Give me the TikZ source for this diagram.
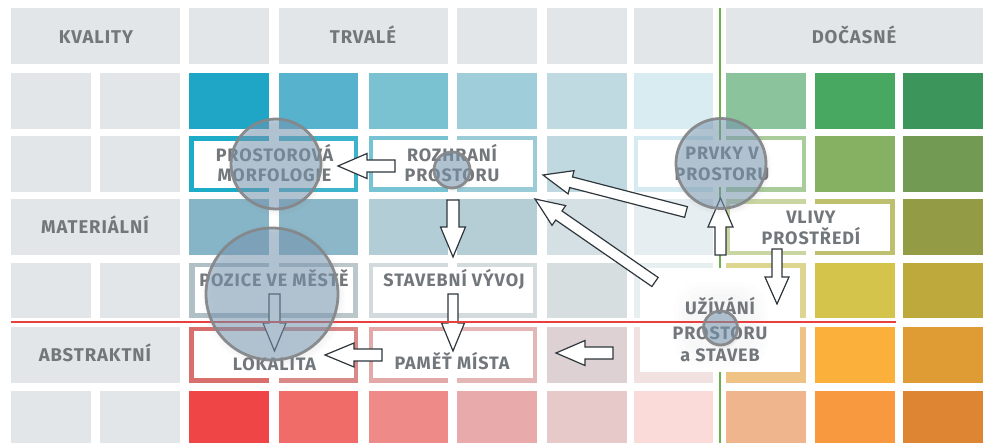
\documentclass[tikz,border=0pt]{standalone}
\usepackage{fontspec}
\setmainfont{Fira Sans}
\newfontfamily\lblfont[LetterSpace=5]{Fira Sans}
\usetikzlibrary{calc,shadows}
\definecolor{gcell}{HTML}{E3E6E8}
\definecolor{txtgray}{HTML}{72777C}
\definecolor{arrowc}{HTML}{2F373C}
\definecolor{lensfill}{HTML}{7496B3}
\definecolor{lensborder}{HTML}{858789}
\definecolor{redline}{HTML}{E8403E}
\definecolor{greenline}{HTML}{6BB04A}
% row 1
\definecolor{ra2}{HTML}{1FA6C6}\definecolor{ra3}{HTML}{56B2CD}\definecolor{ra4}{HTML}{7AC1D1}
\definecolor{ra5}{HTML}{A0CDDA}\definecolor{ra6}{HTML}{C0DAE2}\definecolor{ra7}{HTML}{D8ECF2}
\definecolor{ra8}{HTML}{8BC39C}\definecolor{ra9}{HTML}{48A862}\definecolor{ra10}{HTML}{3C965C}
% row 2
\definecolor{rb2}{HTML}{1CACC8}\definecolor{rb3}{HTML}{3CB4CC}\definecolor{rb4}{HTML}{78C3D3}
\definecolor{rb5}{HTML}{9ACCD8}\definecolor{rb6}{HTML}{C0D9E0}\definecolor{rb7}{HTML}{D5EBF1}
\definecolor{rb8}{HTML}{A9CC9A}\definecolor{rb9}{HTML}{86B163}\definecolor{rb10}{HTML}{729A52}
% row 3
\definecolor{rc2}{HTML}{86B5C8}\definecolor{rc3}{HTML}{8BB7C8}\definecolor{rc4}{HTML}{B2CDD5}
\definecolor{rc5}{HTML}{B5CED6}\definecolor{rc6}{HTML}{D4E0E4}\definecolor{rc7}{HTML}{E6EEF1}
\definecolor{rc8}{HTML}{C9D6A2}\definecolor{rc9}{HTML}{BEC06F}\definecolor{rc10}{HTML}{939B45}
% row 4
\definecolor{rd2}{HTML}{B1C0C6}\definecolor{rd3}{HTML}{BCC7CC}\definecolor{rd4}{HTML}{D3DADD}
\definecolor{rd5}{HTML}{D3DBDD}\definecolor{rd6}{HTML}{D6DEDF}\definecolor{rd7}{HTML}{E8EFF1}
\definecolor{rd8}{HTML}{DCD690}\definecolor{rd9}{HTML}{D5C44B}\definecolor{rd10}{HTML}{BDA93C}
% row 5
\definecolor{re2}{HTML}{D86F6D}\definecolor{re3}{HTML}{D98987}\definecolor{re4}{HTML}{E2A9A8}
\definecolor{re5}{HTML}{E4B6B6}\definecolor{re6}{HTML}{DDD1D3}\definecolor{re7}{HTML}{F2E1E1}
\definecolor{re8}{HTML}{EEC385}\definecolor{re9}{HTML}{FBB03B}\definecolor{re10}{HTML}{E09C34}
% row 6
\definecolor{rf2}{HTML}{F04546}\definecolor{rf3}{HTML}{F06C68}\definecolor{rf4}{HTML}{EE8B88}
\definecolor{rf5}{HTML}{E8AAAA}\definecolor{rf6}{HTML}{E8C9CA}\definecolor{rf7}{HTML}{FBDADA}
\definecolor{rf8}{HTML}{EFB58C}\definecolor{rf9}{HTML}{F8993F}\definecolor{rf10}{HTML}{DD8532}

\newcommand\blockarr[5]{% tail, tip, shaft half width, head half width, head length
  \coordinate (#1-base) at ($(#2)!#5!(#1)$);
  \draw[arrowline] ($(#1)!#3!90:(#2)$) -- ($(#1-base)!#3!90:(#2)$) -- ($(#1-base)!#4!90:(#2)$)
    -- (#2) -- ($(#1-base)!#4!-90:(#2)$) -- ($(#1-base)!#3!-90:(#2)$) -- ($(#1)!#3!-90:(#2)$) -- cycle;
}

\begin{document}
\begin{tikzpicture}[x=1pt,y=-1pt,
  hdr/.style={font=\lblfont\bfseries\fontsize{18.5}{22}\selectfont, text=txtgray, inner sep=0pt, anchor=base},
  lbl/.style={font=\lblfont\bfseries\fontsize{18}{21}\selectfont, text=txtgray, inner sep=0pt, anchor=base},
  arrowline/.style={draw=arrowc, line width=1.2pt, fill=white, line join=miter},
  lens/.style={draw=lensborder, draw opacity=0.95, line width=2.8pt, fill=lensfill, fill opacity=0.5,
    circular drop shadow={shadow xshift=1pt, shadow yshift=-2pt, opacity=0.13, shadow scale=1.1}},
  inner/.style={fill=white}
]
\useasboundingbox (0,0) rectangle (989,443);
\clip (0,0) rectangle (989,443);
\fill[white] (0,0) rectangle (989,443);

% header row
\foreach \xa/\xb in {11/180,189/269,279/448,457/537,547/627,634/713,726/983}
  \fill[gcell] (\xa,8) rectangle (\xb,64);
% left grey columns
\foreach \ya/\yb in {73/129,136/192,263/318,391/447}{
  \fill[gcell] (11,\ya) rectangle (91,\yb);
  \fill[gcell] (100,\ya) rectangle (180,\yb);
}
\fill[gcell] (11,199) rectangle (180,255);
\fill[gcell] (11,327) rectangle (180,383);

% coloured cells
\foreach \r/\ya/\yb in {a/73/129,b/136/192,c/199/255,d/263/318,e/327/383,f/391/447}{
  \foreach \c/\xa/\xb in {2/189/269,3/279/358,4/369/448,5/457/537,6/547/627,7/634/713,8/726/806,9/815/895,10/903/983}
    \fill[r\r\c] (\xa,\ya) rectangle (\xb,\yb);
}

% green divider
\coordinate (gtop) at (720,8);
\coordinate (gbot) at (720,443);
\draw[greenline, line width=1.5pt] (gtop) -- (gbot);

% white insides of the framed boxes
\fill[inner] (194,141) rectangle (354,188);
\fill[inner] (373,140) rectangle (533,187);
\fill[inner] (638,140) rectangle (802,187);
\fill[inner] (730,204) rectangle (890,251);
\fill[inner] (195,267) rectangle (353,313);
\fill[inner] (373,267) rectangle (533,313);
\fill[inner] (194,331) rectangle (354,378);
\fill[inner] (373,331) rectangle (533,378);
\fill[inner] (640,268) rectangle (800,372);
% soft glow behind the UŽÍVÁNÍ text
\foreach \d in {0,4,8,12}
  \fill[black, opacity=0.008, rounded corners=26pt] (674+\d,282+\d) rectangle (768-\d,368-\d);

% texts
\node[hdr] (kvality) at (96,44) {KVALITY};
\node[hdr] (trvale) at (363,44) {TRVALÉ};
\node[hdr] (docasne) at (854,44) {DOČASNÉ};
\node[hdr] (materialni) at (95,234) {MATERIÁLNÍ};
\node[hdr] (abstraktni) at (95,362) {ABSTRAKTNÍ};

\node[lbl] (morf1) at (274.5,162) {PROSTOROVÁ};
\node[lbl] (morf2) at (274.5,182) {MORFOLOGIE};
\node[lbl] (rozh1) at (452,162) {ROZHRANÍ};
\node[lbl] (rozh2) at (452,182) {PROSTORU};
\node[lbl] (prvky1) at (722,160) {PRVKY V};
\node[lbl] (prvky2) at (722,181) {PROSTORU};
\node[lbl] (vlivy1) at (811,224) {VLIVY};
\node[lbl] (vlivy2) at (811,245) {PROSTŘEDÍ};
\node[lbl] (pozice) at (274,287) {POZICE VE MĚSTĚ};
\node[lbl] (stavebni) at (454,287) {STAVEBNÍ VÝVOJ};
\node[lbl] (lokalita) at (274.5,371) {LOKALITA};
\node[lbl] (pamet) at (452,370) {PAMĚŤ MÍSTA};
\node[lbl] (uziv1) at (720,315) {UŽÍVÁNÍ};
\node[lbl] (uziv2) at (720,340) {PROSTORU};
\node[lbl] (uziv3) at (720,362) {a STAVEB};

% block arrows (tail -> tip)
\coordinate (a1t) at (395,166); \coordinate (a1h) at (338,166);
\coordinate (a2t) at (453,200); \coordinate (a2h) at (453,257);
\coordinate (a3t) at (686,212); \coordinate (a3h) at (543,175);
\coordinate (a4t) at (655,282); \coordinate (a4h) at (535,199);
\coordinate (a5t) at (720.5,255); \coordinate (a5h) at (720.5,198);
\coordinate (a6t) at (777,249); \coordinate (a6h) at (777,304);
\coordinate (a7t) at (274.5,294); \coordinate (a7h) at (274.5,351);
\coordinate (a8t) at (453,294); \coordinate (a8h) at (453,351);
\coordinate (a9t) at (382,355); \coordinate (a9h) at (325,355);
\coordinate (a10t) at (613,353); \coordinate (a10h) at (556,353);
\blockarr{a1t}{a1h}{6pt}{12.5pt}{29pt}
\blockarr{a2t}{a2h}{6pt}{12.5pt}{30pt}
\blockarr{a3t}{a3h}{5.5pt}{12pt}{29pt}
\blockarr{a4t}{a4h}{5.5pt}{12pt}{29pt}
\blockarr{a5t}{a5h}{5.5pt}{12.5pt}{29pt}
\blockarr{a6t}{a6h}{5pt}{12pt}{27pt}
\blockarr{a7t}{a7h}{5.5pt}{11.5pt}{28pt}
\blockarr{a8t}{a8h}{5pt}{11.5pt}{28pt}
\blockarr{a9t}{a9h}{6pt}{12pt}{29pt}
\blockarr{a10t}{a10h}{6pt}{12.5pt}{29pt}

% red divider
\coordinate (rl) at (11,322);
\coordinate (rr) at (896,322);
\draw[redline, line width=1.5pt] (rl) -- (rr);

% lenses
\path[lens] (276,164) circle[radius=45pt];
\path[lens] (272,294) circle[radius=66pt];
\path[lens] (452,170) circle[radius=18pt];
\path[lens] (721,163.5) circle[radius=45pt];
\path[lens] (720.5,328) circle[radius=17pt];
\end{tikzpicture}
\end{document}
